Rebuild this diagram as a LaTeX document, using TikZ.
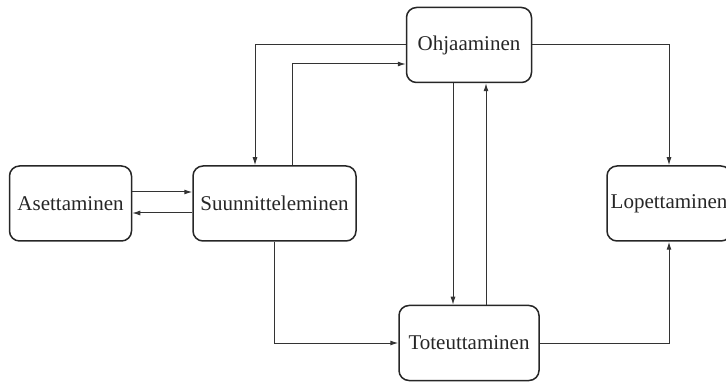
\documentclass[tikz,border=0pt]{standalone}
\usepackage{fontspec}
\setmainfont{Liberation Serif}
\usetikzlibrary{arrows.meta}
\begin{document}
\begin{tikzpicture}[x=1pt,y=-1pt,
  phase/.style={draw=black!85, line width=1.5pt, rounded corners=10pt,
    minimum height=75pt, inner sep=0pt, text=black!85,
    font=\fontsize{21}{24}\selectfont},
  flow/.style={draw=black!80, line width=1pt,
    -{Latex[length=8pt,width=5pt]}}]
\useasboundingbox (0,0) rectangle (726,382);
% process phases
\node[phase, minimum width=122pt] (A) at (70.5,203.5) {Asettaminen};
\node[phase, minimum width=163pt] (S) at (274.5,203.5) {Suunnitteleminen};
\node[phase, minimum width=125pt] (O) at (469,45) {Ohjaaminen};
\node[phase, minimum width=140pt] (T) at (469,343) {Toteuttaminen};
\node[phase, minimum width=124pt] (L) at (669,203.5) {Lopettaminen};
% connections between phases
\draw[flow] ([yshift=11.5pt]A.east) -- ([yshift=11.5pt]S.west);
\draw[flow] ([yshift=-9.5pt]S.west) -- ([yshift=-9.5pt]A.east);
\draw[flow] (O.west) -| ([xshift=-19.5pt]S.north);
\draw[flow] ([xshift=17.5pt]S.north) |- ([yshift=-19pt]O.west);
\draw[flow] (O.east) -| (L.north);
\draw[flow] ([xshift=-16pt]O.south) -- ([xshift=-16pt]T.north);
\draw[flow] ([xshift=17pt]T.north) -- ([xshift=17pt]O.south);
\draw[flow] (S.south) |- (T.west);
\draw[flow] (T.east) -| (L.south);
\end{tikzpicture}
\end{document}
